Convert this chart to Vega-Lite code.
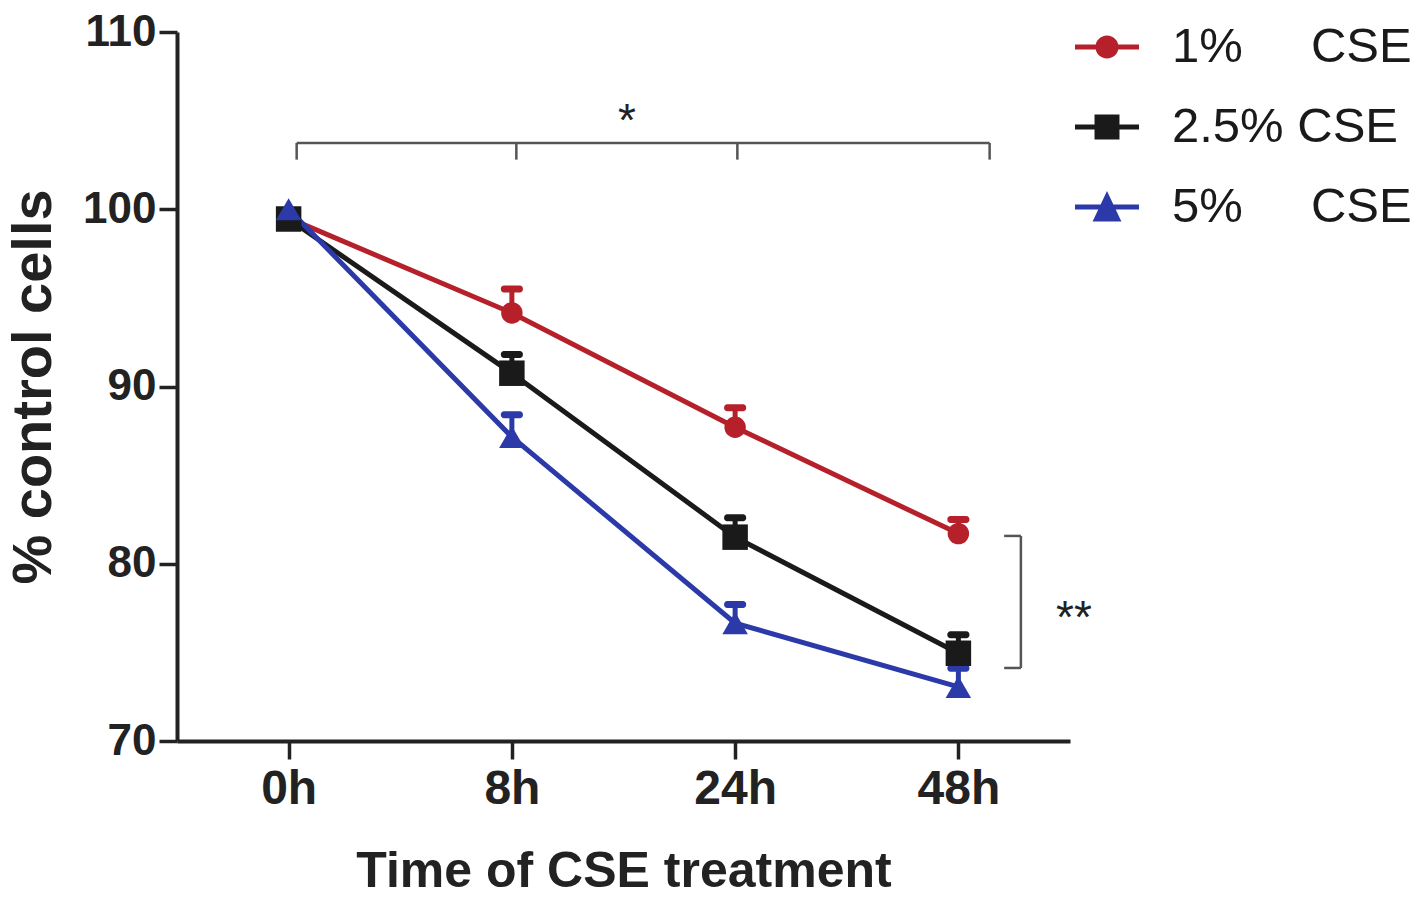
{
  "$schema": "https://vega.github.io/schema/vega-lite/v6.json",
  "description": "Percent control cells over time of CSE treatment",
  "width": 893,
  "height": 709,
  "autosize": "none",
  "padding": {"left": 177, "top": 32, "right": 347, "bottom": 167},
  "config": {
    "view": {"stroke": null},
    "font": "Liberation Sans",
    "legend": {
      "title": null,
      "orient": "none",
      "padding": 0,
      "symbolSize": 4096,
      "symbolStrokeWidth": 0,
      "labelOffset": 33,
      "labelFont": "Liberation Sans",
      "labelFontSize": 49,
      "labelColor": "#1A1A1A",
      "labelLimit": 400
    }
  },
  "resolve": {"scale": {"color": "independent"}, "legend": {"color": "independent"}},
  "datasets": {
    "cells": [
      {"time": 0, "conc": "1%", "value": 99.5, "upper": 99.5},
      {"time": 1, "conc": "1%", "value": 94.15, "upper": 95.5},
      {"time": 2, "conc": "1%", "value": 87.7, "upper": 88.8},
      {"time": 3, "conc": "1%", "value": 81.7, "upper": 82.5},
      {"time": 0, "conc": "2.5%", "value": 99.45, "upper": 99.45},
      {"time": 1, "conc": "2.5%", "value": 90.75, "upper": 91.8},
      {"time": 2, "conc": "2.5%", "value": 81.5, "upper": 82.6},
      {"time": 3, "conc": "2.5%", "value": 74.95, "upper": 76.0},
      {"time": 0, "conc": "5%", "value": 100.0, "upper": 100.0},
      {"time": 1, "conc": "5%", "value": 87.15, "upper": 88.4},
      {"time": 2, "conc": "5%", "value": 76.65, "upper": 77.7},
      {"time": 3, "conc": "5%", "value": 73.05, "upper": 74.1}
    ],
    "brackets": [
      {"time": 0.036, "time2": 3.14, "value": 103.74, "value2": 103.74},
      {"time": 0.036, "time2": 0.036, "value": 103.74, "value2": 102.8},
      {"time": 1.02, "time2": 1.02, "value": 103.74, "value2": 102.8},
      {"time": 2.01, "time2": 2.01, "value": 103.74, "value2": 102.8},
      {"time": 3.14, "time2": 3.14, "value": 103.74, "value2": 102.8},
      {"time": 3.28, "time2": 3.28, "value": 81.57, "value2": 74.12},
      {"time": 3.205, "time2": 3.28, "value": 81.57, "value2": 81.57},
      {"time": 3.205, "time2": 3.28, "value": 74.12, "value2": 74.12}
    ],
    "stars": [
      {"time": 1.516, "value": 104.13, "label": "*"},
      {"time": 3.518, "value": 76.09, "label": "**"}
    ]
  },
  "layer": [
    {
      "data": {"name": "brackets"},
      "mark": {"type": "rule", "color": "#555555", "strokeWidth": 2.5},
      "encoding": {
        "x": {
          "field": "time",
          "type": "quantitative",
          "scale": {"domain": [-0.5, 3.5], "nice": false, "zero": false},
          "axis": {
            "values": [0, 1, 2, 3],
            "labelExpr": "['0h','8h','24h','48h'][datum.value]",
            "grid": false,
            "tickSize": 18,
            "tickWidth": 3.5,
            "tickColor": "#222222",
            "domainWidth": 4,
            "domainColor": "#222222",
            "labelFont": "Liberation Sans",
            "labelFontWeight": "bold",
            "labelFontSize": 48,
            "labelColor": "#222222",
            "labelPadding": 6,
            "labelFlush": false,
            "labelOverlap": false,
            "title": "Time of CSE treatment",
            "titleFont": "Liberation Sans",
            "titleFontWeight": "bold",
            "titleFontSize": 50,
            "titleColor": "#222222",
            "titlePadding": 33
          }
        },
        "x2": {"field": "time2"},
        "y": {
          "field": "value",
          "type": "quantitative",
          "scale": {"domain": [70, 110], "nice": false, "zero": false},
          "axis": {
            "values": [70, 80, 90, 100, 110],
            "grid": false,
            "tickSize": 18,
            "tickWidth": 3.5,
            "tickColor": "#222222",
            "domainWidth": 4,
            "domainColor": "#222222",
            "labelFont": "Liberation Sans",
            "labelFontWeight": "bold",
            "labelFontSize": 44,
            "labelColor": "#222222",
            "labelPadding": 3,
            "labelFlush": false,
            "labelOverlap": false,
            "title": "% control cells",
            "titleFont": "Liberation Sans",
            "titleFontWeight": "bold",
            "titleFontSize": 56,
            "titleColor": "#222222",
            "titlePadding": 20
          }
        },
        "y2": {"field": "value2"}
      }
    },
    {
      "data": {"name": "cells"},
      "transform": [{"filter": "datum.time > 0"}],
      "mark": {"type": "tick", "orient": "horizontal", "size": 22, "thickness": 7, "opacity": 1, "cornerRadius": 3},
      "encoding": {
        "x": {"field": "time", "type": "quantitative"},
        "y": {"field": "upper", "type": "quantitative"},
        "color": {
          "field": "conc",
          "type": "nominal",
          "legend": null,
          "scale": {"domain": ["1%", "2.5%", "5%"], "range": ["#B5202A", "#1A1A1A", "#2B3AA8"]}
        }
      }
    },
    {
      "data": {"name": "cells"},
      "mark": {"type": "line", "strokeWidth": 5},
      "encoding": {
        "x": {"field": "time", "type": "quantitative"},
        "y": {"field": "value", "type": "quantitative"},
        "color": {
          "field": "conc",
          "type": "nominal",
          "legend": null,
          "scale": {"domain": ["1%", "2.5%", "5%"], "range": ["#B5202A", "#1A1A1A", "#2B3AA8"]}
        },
        "order": {"field": "time"}
      }
    },
    {
      "data": {"name": "cells"},
      "transform": [{"filter": "datum.time > 0"}],
      "mark": {"type": "rule", "strokeWidth": 5},
      "encoding": {
        "x": {"field": "time", "type": "quantitative"},
        "y": {"field": "value", "type": "quantitative"},
        "y2": {"field": "upper"},
        "color": {
          "field": "conc",
          "type": "nominal",
          "legend": null,
          "scale": {"domain": ["1%", "2.5%", "5%"], "range": ["#B5202A", "#1A1A1A", "#2B3AA8"]}
        }
      }
    },
    {
      "data": {"name": "cells"},
      "transform": [{"filter": "datum.conc === '1%'"}],
      "mark": {"type": "point", "shape": "circle", "size": 460, "filled": true, "opacity": 1, "strokeWidth": 0},
      "encoding": {
        "x": {"field": "time", "type": "quantitative"},
        "y": {"field": "value", "type": "quantitative"},
        "color": {
          "field": "conc",
          "type": "nominal",
          "scale": {"domain": ["1%"], "range": ["#B5202A"]},
          "legend": {
            "legendX": 898,
            "legendY": -17,
            "symbolType": "M-1,-0.078H-0.3V0.078H-1Z M0.3,-0.078H1V0.078H0.3Z M-0.36,0A0.36,0.36,0,1,1,0.36,0A0.36,0.36,0,1,1,-0.36,0Z",
            "labelExpr": "'1%\u00a0\u00a0\u00a0\u00a0\u00a0CSE'"
          }
        }
      }
    },
    {
      "data": {"name": "cells"},
      "transform": [{"filter": "datum.conc === '2.5%'"}],
      "mark": {"type": "point", "shape": "square", "size": 650, "filled": true, "opacity": 1, "strokeWidth": 0},
      "encoding": {
        "x": {"field": "time", "type": "quantitative"},
        "y": {"field": "value", "type": "quantitative"},
        "color": {
          "field": "conc",
          "type": "nominal",
          "scale": {"domain": ["2.5%"], "range": ["#1A1A1A"]},
          "legend": {
            "legendX": 898,
            "legendY": 63,
            "symbolType": "M-1,-0.078H-0.39V0.078H-1Z M0.39,-0.078H1V0.078H0.39Z M-0.39,-0.39H0.39V0.39H-0.39Z",
            "labelExpr": "'2.5% CSE'"
          }
        }
      }
    },
    {
      "data": {"name": "cells"},
      "transform": [{"filter": "datum.conc === '5%'"}],
      "mark": {"type": "point", "shape": "triangle-up", "size": 650, "filled": true, "opacity": 1, "strokeWidth": 0},
      "encoding": {
        "x": {"field": "time", "type": "quantitative"},
        "y": {"field": "value", "type": "quantitative"},
        "color": {
          "field": "conc",
          "type": "nominal",
          "scale": {"domain": ["5%"], "range": ["#2B3AA8"]},
          "legend": {
            "legendX": 898,
            "legendY": 143,
            "symbolType": "M-1,-0.078H-0.2V0.078H-1Z M0.2,-0.078H1V0.078H0.2Z M0,-0.5L0.45,0.45L-0.45,0.45Z",
            "labelExpr": "'5%\u00a0\u00a0\u00a0\u00a0\u00a0CSE'"
          }
        }
      }
    },
    {
      "data": {"name": "stars"},
      "mark": {"type": "text", "fontSize": 46, "color": "#222222", "baseline": "alphabetic", "align": "center"},
      "encoding": {
        "x": {"field": "time", "type": "quantitative"},
        "y": {"field": "value", "type": "quantitative"},
        "text": {"field": "label"}
      }
    }
  ]
}
